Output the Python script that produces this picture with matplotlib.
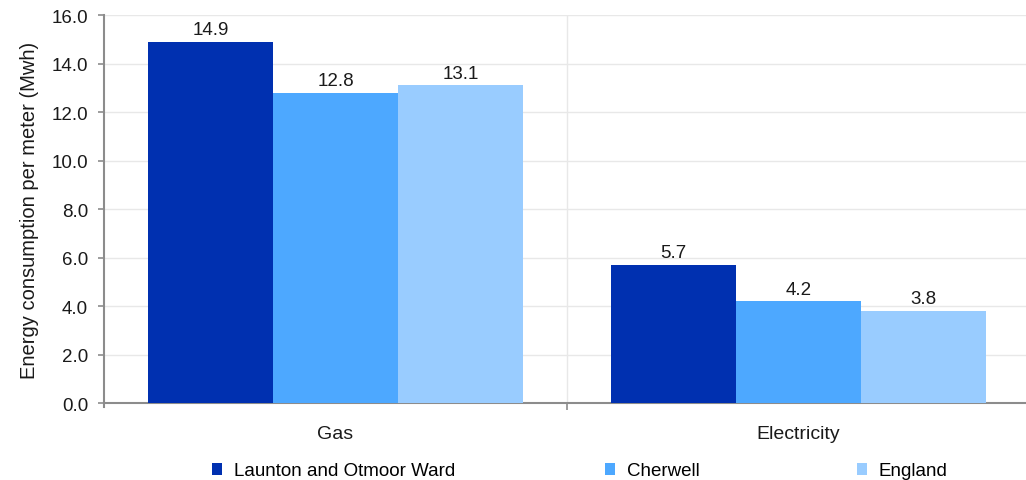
import matplotlib.pyplot as plt
import numpy as np

plt.rcParams['font.family'] = ['Liberation Sans', 'DejaVu Sans']

categories = ['Gas', 'Electricity']
series_names = ['Launton and Otmoor Ward', 'Cherwell', 'England']
launton = [14.9, 5.7]
cherwell = [12.8, 4.2]
england = [13.1, 3.8]
colors = ['#0030b0', '#4da8ff', '#99ccff']
txt = '#1a1a1a'

fig = plt.figure(figsize=(10.26, 4.81), dpi=100)
ax = fig.add_axes([104 / 1026, 0.160, 926 / 1026, 0.8067])

x = np.arange(len(categories))
width = 0.27
handles = []
for i, (vals, name) in enumerate(zip([launton, cherwell, england], series_names)):
    pos = x + (i - 1) * width
    bars = ax.bar(pos, vals, width, color=colors[i], label=name, zorder=3)
    handles.append(bars)
    for b, v in zip(bars, vals):
        ax.annotate('%.1f' % v, (b.get_x() + b.get_width() / 2, v),
                    xytext=(0, 2.5), textcoords='offset points',
                    ha='center', va='bottom', fontsize=13.5, color=txt)

ax.set_xlim(-0.5, 1.5)
ax.set_ylim(0, 16)
ax.set_yticks(np.arange(0, 17, 2))
ax.set_yticklabels(['%.1f' % v for v in np.arange(0, 17, 2)])
ax.set_xticks([0.5], minor=True)
ax.set_xticks(x)
ax.set_xticklabels(categories)
ax.tick_params(axis='x', which='major', length=0, pad=16, labelsize=14, colors=txt)
ax.tick_params(axis='x', which='minor', length=5, color='#8c8c8c', width=1.2)
ax.tick_params(axis='y', length=4.5, color='#8c8c8c', width=1.2, labelsize=13.5,
               labelcolor=txt, pad=7)
ax.grid(axis='y', color='#e8e8e8', linewidth=1, zorder=0)
ax.grid(axis='x', which='minor', color='#e8e8e8', linewidth=1, zorder=0)
ax.set_ylabel('Energy consumption per meter (Mwh)', fontsize=14.5, color=txt, labelpad=9)

for s in ['top', 'right']:
    ax.spines[s].set_visible(False)
for s in ['left', 'bottom']:
    ax.spines[s].set_color('#8c8c8c')
    ax.spines[s].set_linewidth(1.5)
ax.spines['left'].set_bounds(-0.15, 16)

# legend entries sit at fixed spots along the bottom
legend_x = [212, 605, 857]
for h, name, lx in zip(handles, series_names, legend_x):
    leg = fig.legend([h], [name], loc='center left',
                     bbox_to_anchor=(lx / 1026, 1 - 472 / 481), frameon=False,
                     fontsize=13.5, handlelength=0.55, handleheight=0.55,
                     handletextpad=0.6, borderpad=0, borderaxespad=0)

fig.savefig('out.png', dpi=100)
